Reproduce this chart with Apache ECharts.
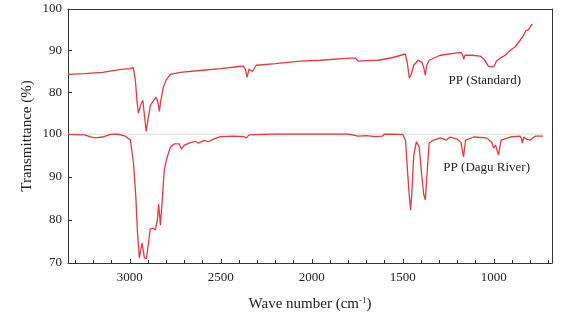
<!DOCTYPE html>
<html>
<head>
<meta charset="utf-8">
<script src="https://cdn.jsdelivr.net/npm/echarts@6/dist/echarts.min.js"></script>
<style>
html, body { margin: 0; padding: 0; background: #fff; }
#chart { width: 588px; height: 323px; }
</style>
</head>
<body>
<div id="chart"></div>
<script>
// PP (Standard) spectrum, top panel
var stdWave = [3340, 3250, 3150, 3050, 3000, 2981, 2970, 2960, 2953, 2940, 2929, 2920, 2910, 2900, 2887, 2870, 2855, 2845, 2838, 2830, 2816, 2800, 2777, 2723, 2600, 2500, 2400, 2376, 2365, 2356, 2345, 2335, 2327, 2305, 2200, 2064, 1953, 1789, 1760, 1745, 1700, 1635, 1560, 1486, 1475, 1464, 1452, 1440, 1415, 1395, 1385, 1376, 1368, 1355, 1294, 1180, 1170, 1165, 1158, 1120, 1075, 1050, 1030, 1010, 997, 985, 975, 965, 940, 909, 880, 855, 845, 838, 828, 822, 810, 800, 795, 788];
var stdTrans = [84.3, 84.5, 84.8, 85.5, 85.7, 85.9, 83.0, 77.5, 75.0, 77.0, 78.1, 74.5, 70.6, 73.5, 76.9, 78.0, 78.8, 77.5, 75.4, 78.0, 81.2, 83.0, 84.3, 84.8, 85.3, 85.7, 86.2, 86.3, 85.5, 83.6, 85.6, 85.5, 85.0, 86.5, 86.9, 87.5, 87.7, 88.2, 88.2, 87.5, 87.6, 87.7, 88.3, 89.2, 87.0, 83.4, 84.5, 86.5, 87.7, 87.2, 86.0, 84.1, 86.5, 87.7, 88.9, 89.6, 88.9, 87.9, 88.9, 88.9, 88.7, 87.8, 86.3, 86.1, 86.3, 87.5, 87.2, 88.2, 88.8, 90.1, 91.0, 92.5, 92.2, 93.5, 93.7, 94.9, 95.0, 95.7, 95.4, 96.4];

// PP (Dagu River) spectrum, bottom panel
var daguWave = [3340, 3250, 3210, 3190, 3150, 3107, 3069, 3025, 2997, 2980, 2967, 2959, 2948, 2933, 2920, 2909, 2898, 2888, 2871, 2860, 2849, 2842, 2832, 2822, 2811, 2795, 2777, 2755, 2728, 2717, 2700, 2668, 2640, 2625, 2613, 2590, 2570, 2540, 2503, 2430, 2375, 2359, 2345, 2200, 1800, 1745, 1700, 1650, 1614, 1600, 1500, 1485, 1475, 1465, 1457, 1450, 1440, 1425, 1410, 1395, 1385, 1376, 1368, 1355, 1330, 1294, 1260, 1240, 1200, 1180, 1166, 1155, 1110, 1040, 1010, 1001, 990, 980, 974, 960, 909, 855, 848, 843, 835, 820, 800, 772, 730];
var daguTrans = [99.9, 99.8, 99.3, 99.1, 99.3, 99.9, 100, 99.5, 98.6, 93.2, 85.3, 77.7, 71.2, 74.6, 71.2, 71.0, 74.6, 77.9, 78.1, 77.7, 80.0, 83.7, 78.8, 84.7, 91.6, 94.6, 97.0, 97.7, 97.7, 96.5, 97.4, 98.0, 98.3, 97.9, 98.1, 98.5, 98.2, 98.8, 99.4, 99.5, 99.4, 99.1, 99.8, 100, 100, 99.5, 99.6, 99.4, 99.5, 100, 99.9, 98.5, 92, 86, 82.3, 86.5, 95, 98.2, 97, 90, 86, 84.7, 90, 97.9, 98.6, 99.1, 98.6, 99.3, 98.8, 98.0, 94.7, 98.6, 99.3, 99.1, 98.0, 96.7, 97.4, 96.0, 95.1, 98.6, 99.3, 99.5, 99.0, 97.9, 99.3, 98.8, 98.6, 99.5, 99.5];

// baseline drawn under the bottom spectrum
var baseWave = [3340, 730];
var baseTrans = [100, 100];

var xMajor = [1000, 1500, 2000, 2500, 3000];
var xMinor = [700, 800, 900, 1100, 1200, 1300, 1400, 1600, 1700, 1800, 1900, 2100, 2200, 2300, 2400, 2600, 2700, 2800, 2900, 3100, 3200, 3300];
var yTopTicks = [80, 90, 100];
var yBottomTicks = [70, 80, 90, 100];

function pairs(xs, ys) {
    return xs.map(function (x, i) { return [x, ys[i]]; });
}

var chart = echarts.init(document.getElementById('chart'));
var serif = 'Liberation Serif';
var axisColor = '#333';
var red = '#e8383d';
var labelStyle = { fontFamily: serif, fontSize: 13, color: '#222' };
var plain = function (v) { return String(v); };

var option = {
    animation: false,
    backgroundColor: '#fff',
    grid: [
        { left: 68, right: 36, top: 9, height: 125 },
        { left: 68, right: 36, top: 134, height: 129 }
    ],
    xAxis: [
        {
            gridIndex: 0, type: 'value', min: 680, max: 3340, inverse: true, position: 'top',
            axisLine: { show: true, lineStyle: { color: axisColor } },
            axisTick: { show: false }, axisLabel: { show: false }, splitLine: { show: false }
        },
        {
            gridIndex: 1, type: 'value', min: 680, max: 3340, inverse: true, position: 'bottom',
            axisLine: { show: true, lineStyle: { color: axisColor } },
            axisTick: { show: true, inside: true, length: 4, customValues: xMajor, lineStyle: { color: axisColor } },
            axisLabel: Object.assign({ customValues: xMajor, margin: 8, formatter: plain }, labelStyle),
            splitLine: { show: false },
            name: 'Wave number (cm{sup|-1})',
            nameLocation: 'middle',
            nameGap: 33,
            nameTextStyle: {
                fontFamily: serif, fontSize: 15, color: '#222',
                rich: { sup: { fontFamily: serif, fontSize: 9, color: '#222', padding: [0, 0, 8, 0] } }
            }
        },
        {
            gridIndex: 1, type: 'value', min: 680, max: 3340, inverse: true, position: 'bottom',
            axisLine: { show: false },
            axisTick: { show: true, inside: true, length: 3, customValues: xMinor, lineStyle: { color: axisColor } },
            axisLabel: { show: false }, splitLine: { show: false }
        }
    ],
    yAxis: [
        {
            gridIndex: 0, type: 'value', min: 70, max: 100,
            axisLine: { show: true, lineStyle: { color: axisColor } },
            axisTick: { show: true, inside: true, length: 4, customValues: yTopTicks, lineStyle: { color: axisColor } },
            axisLabel: Object.assign({ customValues: yTopTicks, margin: 6, formatter: plain }, labelStyle),
            splitLine: { show: false }
        },
        {
            gridIndex: 0, type: 'value', min: 70, max: 100, position: 'right',
            axisLine: { show: true, lineStyle: { color: axisColor } },
            axisTick: { show: false }, axisLabel: { show: false }, splitLine: { show: false }
        },
        {
            gridIndex: 1, type: 'value', min: 70, max: 100,
            axisLine: { show: true, lineStyle: { color: axisColor } },
            axisTick: { show: true, inside: true, length: 4, customValues: yBottomTicks, lineStyle: { color: axisColor } },
            axisLabel: Object.assign({ customValues: yBottomTicks, margin: 6, formatter: plain }, labelStyle),
            splitLine: { show: false }
        },
        {
            gridIndex: 1, type: 'value', min: 70, max: 100, position: 'right',
            axisLine: { show: true, lineStyle: { color: axisColor } },
            axisTick: { show: false }, axisLabel: { show: false }, splitLine: { show: false }
        }
    ],
    graphic: [
        {
            type: 'text', x: 27, y: 136, rotation: Math.PI / 2,
            style: { text: 'Transmittance (%)', fontFamily: serif, fontSize: 15, fill: '#222', align: 'center', verticalAlign: 'middle' }
        },
        {
            type: 'text', x: 521, y: 81,
            style: { text: 'PP (Standard)', fontFamily: serif, fontSize: 13, fill: '#222', align: 'right', verticalAlign: 'middle' }
        },
        {
            type: 'text', x: 530, y: 168,
            style: { text: 'PP (Dagu River)', fontFamily: serif, fontSize: 13, fill: '#222', align: 'right', verticalAlign: 'middle' }
        }
    ],
    series: [
        {
            name: 'baseline', type: 'line', xAxisIndex: 1, yAxisIndex: 2, z: 1,
            data: pairs(baseWave, baseTrans), showSymbol: false, silent: true,
            lineStyle: { color: '#d2cfcc', width: 1.2 }
        },
        {
            name: 'PP (Standard)', type: 'line', xAxisIndex: 0, yAxisIndex: 0, z: 3,
            data: pairs(stdWave, stdTrans), showSymbol: false,
            lineStyle: { color: red, width: 1.3 }
        },
        {
            name: 'PP (Dagu River)', type: 'line', xAxisIndex: 1, yAxisIndex: 2, z: 3,
            data: pairs(daguWave, daguTrans), showSymbol: false,
            lineStyle: { color: red, width: 1.3 }
        }
    ]
};

chart.setOption(option);
</script>
</body>
</html>
